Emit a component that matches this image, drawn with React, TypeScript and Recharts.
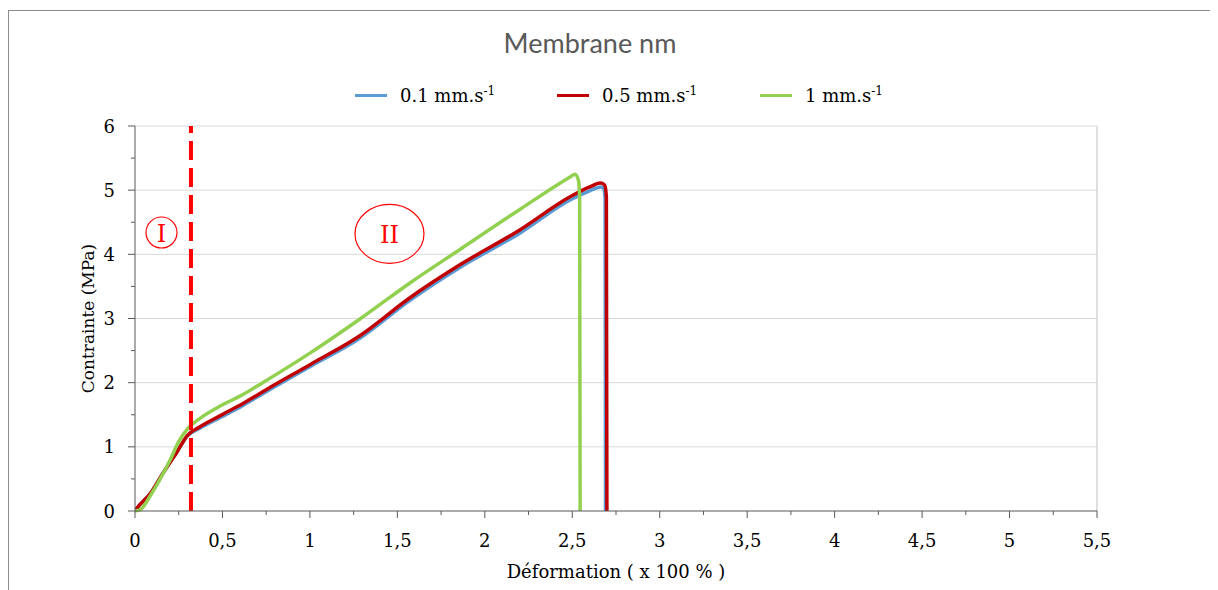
import React from "react";
import {
  LineChart,
  Line,
  XAxis,
  YAxis,
  CartesianGrid,
  ReferenceLine,
  ReferenceDot,
} from "recharts";

// courbes de traction, déformation (x 100 %) / contrainte (MPa)
const strainSlow = [0, 0.01, 0.09, 0.16, 0.24, 0.3, 0.37, 0.49, 0.62, 0.75, 1.0, 1.29, 1.57, 1.86, 2.2, 2.49, 2.6, 2.665, 2.68, 2.688, 2.69];
const stressSlow = [0, 0.04, 0.28, 0.59, 0.92, 1.17, 1.29, 1.46, 1.65, 1.86, 2.25, 2.7, 3.28, 3.8, 4.33, 4.85, 4.99, 5.05, 5.02, 4.85, 0];

const strainMid = [0, 0.01, 0.09, 0.16, 0.24, 0.3, 0.37, 0.49, 0.62, 0.75, 1.0, 1.29, 1.57, 1.86, 2.2, 2.49, 2.6, 2.66, 2.685, 2.695, 2.698];
const stressMid = [0, 0.04, 0.28, 0.59, 0.92, 1.18, 1.31, 1.49, 1.68, 1.89, 2.28, 2.74, 3.32, 3.84, 4.38, 4.9, 5.05, 5.11, 5.08, 4.9, 0];

const strainFast = [0, 0.03, 0.09, 0.14, 0.2, 0.25, 0.3, 0.37, 0.49, 0.6, 0.73, 1.0, 1.29, 1.57, 1.86, 2.2, 2.49, 2.515, 2.535, 2.542, 2.545];
const stressFast = [0, 0.02, 0.25, 0.48, 0.79, 1.08, 1.28, 1.44, 1.64, 1.79, 2.0, 2.46, 3.0, 3.55, 4.08, 4.7, 5.21, 5.25, 5.16, 4.9, 0];

const seriesNames = ["0.1 mm.s", "0.5 mm.s", "1 mm.s"];
const seriesColors = ["#5b9bd5", "#c00000", "#92d050"];

const xTicks = [0, 0.25, 0.5, 0.75, 1, 1.25, 1.5, 1.75, 2, 2.25, 2.5, 2.75, 3, 3.25, 3.5, 3.75, 4, 4.25, 4.5, 4.75, 5, 5.25, 5.5];
const yTicks = [0, 0.5, 1, 1.5, 2, 2.5, 3, 3.5, 4, 4.5, 5, 5.5, 6];
const yGrid = [1, 2, 3, 4, 5, 6];

const limitStrain = 0.32;

const toPoints = (xs: number[], ys: number[]) => xs.map((x, i) => ({ x, y: ys[i] }));
const series = [
  toPoints(strainSlow, stressSlow),
  toPoints(strainMid, stressMid),
  toPoints(strainFast, stressFast),
];

const isMajor = (v: number) => Math.abs(v * 2 - Math.round(v * 2)) < 1e-6;
const frNum = (v: number) => String(v).replace(".", ",");

const XTick = ({ x, y, payload }: any) => {
  const major = isMajor(payload.value);
  return (
    <g>
      <line x1={x} x2={x} y1={y} y2={y + (major ? 7 : 4)} stroke="#595959" />
      {major && (
        <text x={x} y={y + 36} textAnchor="middle" fontSize={18} fill="#000">
          {frNum(payload.value)}
        </text>
      )}
    </g>
  );
};

const YTick = ({ x, y, payload }: any) => {
  const major = Number.isInteger(payload.value);
  return (
    <g>
      <line x1={x} x2={x - (major ? 7 : 4)} y1={y} y2={y} stroke="#595959" />
      {major && (
        <text x={x - 20} y={y + 6.5} textAnchor="end" fontSize={18} fill="#000">
          {payload.value}
        </text>
      )}
    </g>
  );
};

// zone I / zone II
const zoneMark = (label: string, rx: number, ry: number) => (p: any) => (
  <g>
    <ellipse cx={p.cx} cy={p.cy} rx={rx} ry={ry} fill="none" stroke="#ff0000" strokeWidth={1.2} />
    <text x={p.cx} y={p.cy + 9} textAnchor="middle" fontSize={24} fill="#ff0000">
      {label}
    </text>
  </g>
);

const legendLeft = [347, 549, 752];

export default function App() {
  return (
    <div style={{ position: "relative", width: 1210, height: 582, fontFamily: "DejaVu Serif" }}>
      <div
        style={{
          position: "absolute",
          left: 0,
          top: 2,
          width: 1210,
          height: 600,
          borderTop: "1px solid #8c8c8c",
          borderLeft: "1px solid #8c8c8c",
        }}
      />
      <div
        style={{
          position: "absolute",
          top: 18,
          left: 0,
          width: 1164,
          textAlign: "center",
          fontFamily: "Lato",
          fontSize: 27,
          color: "#595959",
        }}
      >
        Membrane nm
      </div>
      {seriesNames.map((name, i) => (
        <div
          key={name}
          style={{
            position: "absolute",
            top: 76,
            left: legendLeft[i],
            display: "flex",
            alignItems: "center",
            fontSize: 18,
            whiteSpace: "nowrap",
          }}
        >
          <span style={{ width: 32, height: 3, background: seriesColors[i], marginRight: 13 }} />
          <span>
            {name}
            <sup style={{ fontSize: 12 }}>-1</sup>
          </span>
        </div>
      ))}
      <LineChart
        width={1210}
        height={582}
        margin={{ top: 118, right: 121, bottom: 9, left: 33 }}
        style={{ position: "absolute", left: 0, top: 0 }}
      >
        <CartesianGrid vertical={false} horizontalValues={yGrid} stroke="#d9d9d9" />
        <XAxis
          type="number"
          dataKey="x"
          domain={[0, 5.5]}
          ticks={xTicks}
          interval={0}
          tick={<XTick />}
          tickLine={false}
          tickSize={0}
          tickMargin={0}
          height={70}
          axisLine={{ stroke: "#595959" }}
          allowDataOverflow
          label={{ value: "Déformation ( x 100 % )", position: "insideBottom", offset: 3, fontSize: 18, fill: "#000" }}
        />
        <YAxis
          type="number"
          dataKey="y"
          domain={[0, 6]}
          ticks={yTicks}
          interval={0}
          tick={<YTick />}
          tickLine={false}
          tickSize={0}
          tickMargin={0}
          width={94}
          axisLine={{ stroke: "#595959" }}
          label={{ value: "Contrainte (MPa)", angle: -90, position: "center", fontSize: 17, fill: "#000" }}
        />
        <ReferenceLine x={5.5} stroke="#bfbfbf" />
        {series.map((d, i) => (
          <Line
            key={seriesNames[i]}
            data={d}
            dataKey="y"
            type="monotone"
            stroke={seriesColors[i]}
            strokeWidth={3.5}
            strokeLinejoin="round"
            dot={false}
            activeDot={false}
            isAnimationActive={false}
          />
        ))}
        <ReferenceLine x={limitStrain} stroke="#ff0000" strokeWidth={4} strokeDasharray="19 8" />
        <ReferenceDot x={0.1515} y={4.34} shape={zoneMark("I", 15.5, 15.5)} />
        <ReferenceDot x={1.455} y={4.32} shape={zoneMark("II", 34.5, 29.5)} />
      </LineChart>
    </div>
  );
}
